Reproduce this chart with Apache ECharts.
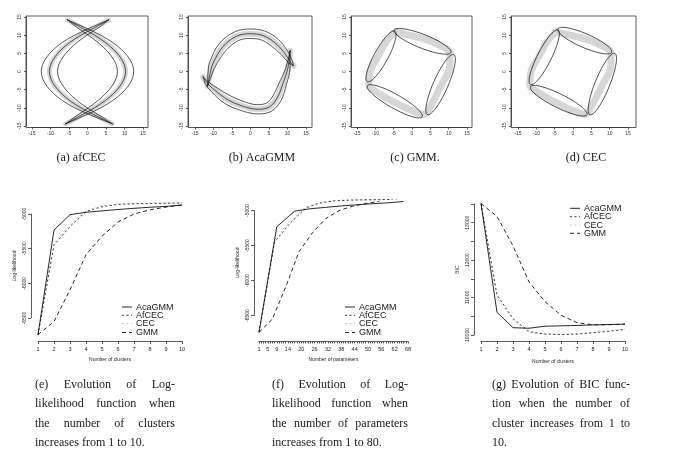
<!DOCTYPE html>
<html><head><meta charset="utf-8">
<script src="https://cdn.jsdelivr.net/npm/echarts@6/dist/echarts.min.js"></script>
<style>html,body{margin:0;padding:0;background:#fff}#c{width:675px;height:453px}</style>
</head><body><div id="c"></div>
<script>
// ================= DATA =================
// (a) afCEC: two curved clusters; x values listed for the shared y positions
const afcecYs      = [14.2, 12, 10, 8, 6, 4, 2, 0, -2, -4, -6, -8, -10, -12, -14.4];
const afcecLeftMid = [5.7, 1.8, -1.8, -4.8, -7.1, -8.8, -9.9, -10.3, -9.9, -8.8, -7.1, -4.8, -1.8, 2.0, 6.7];
const afcecLeftOut = [5.7, 0.7, -3.47, -6.78, -9.23, -10.99, -12.1, -12.5, -12.1, -10.99, -9.23, -6.78, -3.47, 0.9, 6.7];
const afcecLeftIn  = [5.7, 2.9, -0.13, -2.82, -4.97, -6.61, -7.7, -8.1, -7.7, -6.61, -4.97, -2.82, -0.13, 3.1, 6.7];
const afcecRightMid = [-5.4, -1.6, 1.9, 4.8, 7.1, 8.8, 9.9, 10.3, 9.9, 8.8, 7.1, 4.8, 1.9, -1.6, -5.9];
const afcecRightOut = [-5.4, -0.5, 3.57, 6.78, 9.23, 10.99, 12.1, 12.5, 12.1, 10.99, 9.23, 6.78, 3.57, -0.5, -5.9];
const afcecRightIn  = [-5.4, -2.7, 0.23, 2.82, 4.97, 6.61, 7.7, 8.1, 7.7, 6.61, 4.97, 2.82, 0.23, -2.7, -5.9];

// (b) AcaGMM: two curved clusters, [x, y] points
const acaTopMid = [[-11.6,-4.0],[-10.9,-0.5],[-10.1,2.3],[-7.4,6.9],[-3.8,9.7],[-0.2,10.4],[3.4,9.9],[6.5,8.0],[9.2,5.1],[10.8,2.6],[11.6,1.6]];
const acaTopOut = [[-11.6,-4.0],[-11.49,-0.53],[-11.06,2.52],[-8.35,7.79],[-4.27,10.91],[-0.22,11.7],[3.82,11.13],[7.32,9.01],[10.06,5.58],[11.37,2.74],[11.6,1.6]];
const acaTopIn  = [[-11.6,-4.0],[-10.31,-0.47],[-9.14,2.08],[-6.45,6.01],[-3.33,8.49],[-0.18,9.1],[2.98,8.67],[5.68,6.99],[8.34,4.62],[10.23,2.46],[11.6,1.6]];
const acaBotMid = [[-12.8,-1.5],[-11.6,-3.3],[-9.7,-5.1],[-6.1,-7.8],[-1.6,-9.7],[2.0,-10.4],[5.2,-9.7],[7.4,-6.9],[8.8,-3.2],[10.1,0.9],[10.7,5.7]];
const acaBotOut = [[-12.8,-1.5],[-12.17,-3.46],[-10.57,-5.56],[-6.9,-8.82],[-1.81,-10.98],[2.25,-11.68],[5.81,-10.85],[8.35,-7.79],[9.72,-3.54],[10.69,0.95],[10.7,5.7]];
const acaBotIn  = [[-12.8,-1.5],[-11.03,-3.14],[-8.83,-4.64],[-5.3,-6.78],[-1.39,-8.42],[1.75,-9.12],[4.59,-8.55],[6.45,-6.01],[7.88,-2.86],[9.51,0.85],[10.7,5.7]];

// (c),(d) point ring (drawn as a grey band), [x, y]
const squareRing = [[-4.5,11.0],[-0.8,10.0],[3.3,9.0],[7.4,7.3],[10.4,5.0],[10.2,0.9],[7.9,-3.9],[5.6,-8.5],[3.2,-11.8],[-0.6,-10.5],[-4.7,-8.5],[-8.7,-6.2],[-11.8,-3.6],[-11.3,0.4],[-9.2,4.3],[-7.1,8.2],[-4.5,11.0]];
// ellipses: [centerX, centerY, semiMajor, semiMinor, angleDeg]
const gmmEllipses = [[2.9,8.3,8.3,1.9,-21.7],[7.8,-3.6,9.0,2.0,66.5],[-4.7,-8.2,8.6,1.9,-29.8],[-8.45,4.15,7.9,1.9,61.6]];
const cecEllipses = [[3.2,8.5,8.0,1.9,-23.7],[8.0,-3.45,9.1,2.0,68.1],[-3.9,-8.05,8.6,1.9,-26.6],[-7.85,3.9,8.4,1.9,63.4]];

// (e) log-likelihood vs number of clusters
const clusters  = [1,2,3,4,5,6,7,8,9,10];
const llAcaGMM  = [-6740,-5232,-5010,-4975,-4955,-4935,-4918,-4903,-4890,-4872];
const llAfCEC   = [-6740,-5450,-5180,-4965,-4895,-4862,-4852,-4848,-4845,-4842];
const llCEC     = [-6740,-5420,-5150,-4950,-4880,-4855,-4848,-4845,-4842,-4838];
const llGMM     = [-6740,-6552,-6093,-5588,-5320,-5115,-5000,-4940,-4900,-4870];
// (f) number of parameters for each fit
const parAcaGMM = [1,9,17,24,31,38,45,52,59,66];
const parAfCEC  = [1,8,15,22,28,35,42,48,55,61];
const parCEC    = [1,8,15,22,29,36,43,50,57,64];
const parGMM    = [1,7,13,19,25,31,37,43,49,55];
const parTickLabels = [1,5,9,14,20,26,32,38,44,50,56,62,68];
// (g) BIC vs number of clusters
const bicAcaGMM = [13510,10605,10195,10180,10235,10245,10255,10270,10280,10290];
const bicAfCEC  = [13510,11070,10440,10090,10025,10010,10025,10060,10100,10150];
const bicCEC    = [13510,11000,10400,10060,10030,10015,10030,10070,10110,10160];
const bicGMM    = [13510,13170,12380,11420,10890,10530,10330,10270,10275,10290];

const methodNames = ['AcaGMM','AfCEC','CEC','GMM'];
const topCaptions = ['(a) afCEC','(b) AcaGMM','(c) GMM.','(d) CEC'];
const capE = ['(e) Evolution of Log-','likelihood function when','the number of clusters','increases from 1 to 10.'];
const capF = ['(f) Evolution of Log-','likelihood function when','the number of parameters','increases from 1 to 80.'];
const capG = ['(g) Evolution of BIC func-','tion when the number of','cluster increases from 1 to','10.'];

// ================= CHART =================
const SANS = '"Liberation Sans", Arial, sans-serif';
const SERIF = '"Liberation Serif", "Times New Roman", serif';
const INK = '#1a1a1a';
const zipXY = (xs, ys) => xs.map((x, i) => [x, ys[i]]);

const methodStyle = {
  AcaGMM: {color:'#111', type:'solid', dash:null, z:5},
  AfCEC:  {color:'#222', type:[2,2.5], dash:[2,2.5], z:4},
  CEC:    {color:'#c2c2c2', type:[2,2.5], dash:[2,2.5], z:3},
  GMM:    {color:'#111', type:[4,3], dash:[4,3], z:4}
};

function curve(gi, data, color, width, z, smooth) {
  return {type:'line', xAxisIndex:gi, yAxisIndex:gi, data, symbol:'none', showSymbol:false,
    smooth: smooth === undefined ? 0.35 : smooth, clip:false, silent:true, z,
    lineStyle:{color, width, type:'solid', cap:'round', join:'round'}, itemStyle:{color}};
}
function methodLine(gi, name, xs, ys) {
  const s = methodStyle[name];
  return {type:'line', name, xAxisIndex:gi, yAxisIndex:gi, data: zipXY(xs, ys), symbol:'none', showSymbol:false,
    clip:false, silent:true, z:s.z, lineStyle:{color:s.color, width:0.9, type:s.type}, itemStyle:{color:s.color}};
}
function ellipseSeries(gi, data) {
  return {type:'custom', xAxisIndex:gi, yAxisIndex:gi, data, clip:false, silent:true, z:4,
    encode:{x:0, y:1},
    renderItem(params, api) {
      const cx = api.value(0), cy = api.value(1), a = api.value(2), b = api.value(3);
      const th = api.value(4) * Math.PI / 180;
      const pts = [];
      for (let k = 0; k < 72; k++) {
        const t = k / 72 * 2 * Math.PI;
        const x = cx + a * Math.cos(t) * Math.cos(th) - b * Math.sin(t) * Math.sin(th);
        const y = cy + a * Math.cos(t) * Math.sin(th) + b * Math.sin(t) * Math.cos(th);
        pts.push(api.coord([x, y]));
      }
      return {type:'polygon', shape:{points:pts}, style:{fill:'none', stroke:'#111', lineWidth:0.75}};
    }};
}

const grids = [
  {left:32, top:17, width:111, height:109},
  {left:195, top:17, width:111, height:109},
  {left:357, top:17, width:110, height:109},
  {left:518, top:17, width:110, height:109},
  {left:38, top:214, width:144, height:104},
  {left:259, top:210.5, width:149, height:105},
  {left:481, top:204, width:144, height:131}
].map(g => Object.assign({containLabel:false, show:false}, g));

const axisLineStyle = {color:'#333', width:0.8};
function topX(gi) {
  return {gridIndex:gi, type:'value', min:-15, max:15, interval:5, offset:1.5,
    axisLine:{show:true, onZero:false, lineStyle:axisLineStyle},
    axisTick:{show:true, length:2, lineStyle:axisLineStyle},
    axisLabel:{fontSize:5, margin:3.5, color:'#333', fontFamily:SANS},
    splitLine:{show:false}};
}
function topY(gi, off) {
  return {gridIndex:gi, type:'value', min:-15, max:15, interval:5, offset:off,
    axisLine:{show:true, onZero:false, lineStyle:axisLineStyle},
    axisTick:{show:true, length:2, lineStyle:axisLineStyle},
    axisLabel:{fontSize:5, margin:4, rotate:90, color:'#333', fontFamily:SANS},
    splitLine:{show:false}};
}
const axisNameStyle = {fontSize:5, color:'#222', fontFamily:SANS};
function botX(gi, min, max, off, fmt, tickLen, name, gap) {
  return {gridIndex:gi, type:'value', min, max, interval:1, offset:off,
    name, nameLocation:'middle', nameGap:gap, nameTextStyle:axisNameStyle,
    axisLine:{show:true, onZero:false, lineStyle:axisLineStyle},
    axisTick:{show:true, length:tickLen, lineStyle:axisLineStyle},
    axisLabel:{fontSize:5.5, margin:5, color:'#222', fontFamily:SANS, formatter:fmt},
    splitLine:{show:false}};
}
function botY(gi, min, max, off, fmt, name) {
  return {gridIndex:gi, type:'value', min, max, interval:500, offset:off,
    name, nameLocation:'middle', nameGap:14, nameRotate:90, nameTextStyle:axisNameStyle,
    axisLine:{show:true, onZero:false, lineStyle:axisLineStyle},
    axisTick:{show:true, length:3, lineStyle:axisLineStyle},
    axisLabel:{fontSize:5, margin:4, rotate:90, color:'#222', fontFamily:SANS, formatter:fmt},
    splitLine:{show:false}};
}

const xAxes = [
  topX(0), topX(1), topX(2), topX(3),
  botX(4, 1, 10, 23, v => String(v), 3, 'Number of clusters', 16),
  botX(5, 1, 68, 26, v => parTickLabels.indexOf(v) >= 0 ? String(v) : '', 2, 'Number of parameters', 16),
  botX(6, 1, 10, 6, v => String(v), 3, 'Number of clusters', 18)
];
const yAxes = [
  topY(0, 6), topY(1, 7), topY(2, 6), topY(3, 7),
  botY(4, -6500, -5000, 7, v => String(v), 'Log-likelihood'),
  botY(5, -6500, -5000, 5, v => String(v), 'Log-likelihood'),
  botY(6, 10000, 13500, 7, v => (v % 1000 === 0 ? String(v) : ''), 'BIC')
];

const GRAY = '#d6d6d6';
const series = [];
// (a)
series.push(curve(0, zipXY(afcecLeftMid, afcecYs), GRAY, 5, 1));
series.push(curve(0, zipXY(afcecRightMid, afcecYs), GRAY, 5, 1));
[afcecLeftOut, afcecLeftMid, afcecLeftIn, afcecRightOut, afcecRightMid, afcecRightIn].forEach(xs =>
  series.push(curve(0, zipXY(xs, afcecYs), '#111', 0.7, 3)));
// (b)
series.push(curve(1, acaTopMid, GRAY, 6, 1));
series.push(curve(1, acaBotMid, GRAY, 6, 1));
[acaTopOut, acaTopMid, acaTopIn, acaBotOut, acaBotMid, acaBotIn].forEach(d =>
  series.push(curve(1, d, '#111', 0.7, 3)));
// (c) and (d)
series.push(curve(2, squareRing, GRAY, 7, 1));
series.push(ellipseSeries(2, gmmEllipses));
series.push(curve(3, squareRing, GRAY, 7, 1));
series.push(ellipseSeries(3, cecEllipses));
// (e)
series.push(methodLine(4, 'CEC', clusters, llCEC));
series.push(methodLine(4, 'AfCEC', clusters, llAfCEC));
series.push(methodLine(4, 'GMM', clusters, llGMM));
series.push(methodLine(4, 'AcaGMM', clusters, llAcaGMM));
// (f)
series.push(methodLine(5, 'CEC', parCEC, llCEC));
series.push(methodLine(5, 'AfCEC', parAfCEC, llAfCEC));
series.push(methodLine(5, 'GMM', parGMM, llGMM));
series.push(methodLine(5, 'AcaGMM', parAcaGMM, llAcaGMM));
// (g)
series.push(methodLine(6, 'CEC', clusters, bicCEC));
series.push(methodLine(6, 'AfCEC', clusters, bicAfCEC));
series.push(methodLine(6, 'GMM', clusters, bicGMM));
series.push(methodLine(6, 'AcaGMM', clusters, bicAcaGMM));

// text helpers
const measure = (() => {
  const c = document.createElement('canvas').getContext('2d');
  c.font = '12px "Liberation Serif"';
  return s => c.measureText(s).width;
})();
function textEl(x, y, text, align, size, family) {
  return {type:'text', x, y, silent:true,
    style:{text, fontSize:size || 12, fontFamily:family || SERIF, fill:INK, align: align || 'left', verticalAlign:'middle'}};
}
function captionBlock(lines, x0, x1, ys) {
  const els = [];
  lines.forEach((line, li) => {
    const words = line.split(' ');
    if (li === lines.length - 1 || words.length === 1) {
      els.push(textEl(x0, ys[li], line));
    } else {
      const total = words.reduce((s, w) => s + measure(w), 0);
      const gap = (x1 - x0 - total) / (words.length - 1);
      let x = x0;
      words.forEach(w => { els.push(textEl(x, ys[li], w)); x += measure(w) + gap; });
    }
  });
  return els;
}
// legend key drawn as small line samples + labels
function legendBlock(x0, rows) {
  const els = [];
  methodNames.forEach((n, i) => {
    const s = methodStyle[n];
    els.push({type:'line', silent:true, z:20, shape:{x1:x0, y1:rows[i], x2:x0 + 10, y2:rows[i]},
      style:{stroke:s.color, lineWidth:0.9, lineDash:s.dash}});
    els.push(textEl(x0 + 14, rows[i] + 0.3, n, 'left', 9, SANS));
  });
  return els;
}

const capYs = [384.5, 404, 423.5, 442.5];
const boxes = [[26,148],[188,312],[351,472],[511,636]];
const graphic = [];
boxes.forEach(b => graphic.push({type:'rect', silent:true, z:10,
  shape:{x:b[0], y:16, width:b[1]-b[0], height:111.5},
  style:{fill:'none', stroke:'#333', lineWidth:0.8}}));
[81, 262, 415, 586].forEach((cx, i) => graphic.push(textEl(cx, 158, topCaptions[i], 'center')));
captionBlock(capE, 35, 175, capYs).forEach(e => graphic.push(e));
captionBlock(capF, 272, 408, capYs).forEach(e => graphic.push(e));
captionBlock(capG, 492, 630, capYs).forEach(e => graphic.push(e));
legendBlock(122, [307, 315.3, 323.6, 332.5]).forEach(e => graphic.push(e));
legendBlock(345, [307, 315.3, 323.6, 332.5]).forEach(e => graphic.push(e));
legendBlock(570, [208.3, 216.7, 225, 233.3]).forEach(e => graphic.push(e));

const chart = echarts.init(document.getElementById('c'), null, {renderer:'canvas'});
chart.setOption({
  backgroundColor:'#fff',
  animation:false,
  grid: grids,
  xAxis: xAxes,
  yAxis: yAxes,
  series,
  graphic
});
</script></body></html>
